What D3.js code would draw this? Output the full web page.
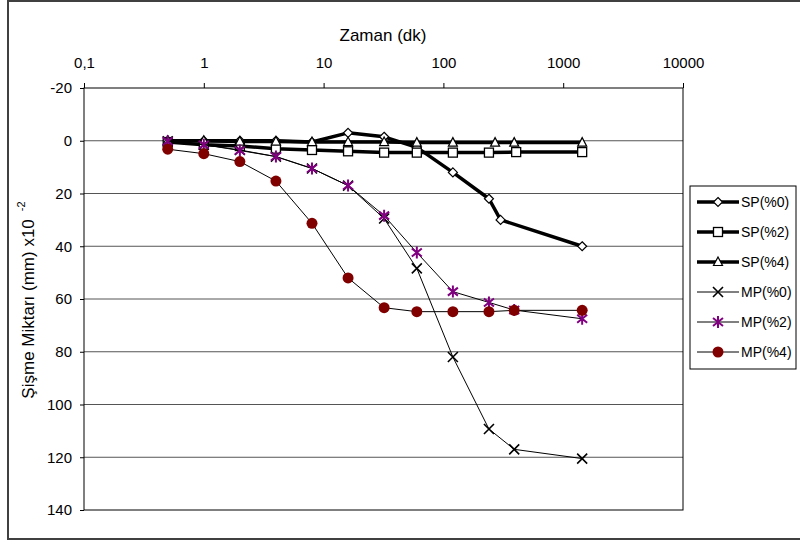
<!DOCTYPE html>
<html lang="tr">
<head>
  <meta charset="UTF-8">
  <title>Şişme Miktarı - Zaman</title>
  <script src="https://d3js.org/d3.v7.min.js"></script>
  <style>
    body { margin: 0; background: #fff; }
    svg { display: block; }
    text { font-family: "Liberation Sans", Arial, sans-serif; fill: #000; }
  </style>
</head>
<body>
  <svg width="800" height="543"></svg>
  <script>
    // dados
    const seriesNames = ['SP(%0)', 'SP(%2)', 'SP(%4)', 'MP(%0)', 'MP(%2)', 'MP(%4)'];
    const timesSP0 = [0.5, 1, 2, 4, 8, 16, 32, 60, 120, 240, 300, 1440];
    const timesSP2 = [0.5, 1, 2, 4, 8, 16, 32, 60, 120, 240, 405, 1440];
    const timesSP4 = [0.5, 1, 2, 4, 8, 16, 32, 60, 120, 270, 390, 1440];
    const timesMP = [0.5, 1, 2, 4, 8, 16, 32, 60, 120, 240, 390, 1440];
    const valSP0 = [0, 0, 0, 0, 0.5, -3, -1.5, 2.5, 12, 22, 30, 40];
    const valSP2 = [0.5, 1.5, 2, 3, 3.5, 4, 4.5, 4.5, 4.5, 4.5, 4.3, 4.3];
    const valSP4 = [0, 0, 0.3, 0.3, 0.5, 0.5, 0.5, 0.7, 0.7, 0.7, 0.7, 0.7];
    const valMP0 = [0.2, 1.5, 3.5, 6, 10.5, 17, 29.5, 48.4, 82, 109.3, 117, 120.5];
    const valMP2 = [0.2, 1.5, 3.7, 6, 10.5, 17, 28.4, 42.4, 57.2, 61.3, 64.2, 67.5];
    const valMP4 = [3.2, 4.9, 7.9, 15.3, 31.3, 52, 63.3, 64.8, 64.8, 64.8, 64.3, 64.3];
    const xTicks = [0.1, 1, 10, 100, 1000, 10000];
    const yTicks = [-20, 0, 20, 40, 60, 80, 100, 120, 140];

    const svg = d3.select('svg');

    // moldura
    svg.append('rect')
      .attr('x', 8).attr('y', 1)
      .attr('width', 800).attr('height', 538)
      .attr('fill', '#fff')
      .attr('stroke', '#404040')
      .attr('stroke-width', 2);

    const x = d3.scaleLog().domain([0.1, 10000]).range([84, 683]);
    const y = d3.scaleLinear().domain([-20, 140]).range([88, 510]);

    // grade
    svg.append('g').selectAll('line')
      .data(yTicks.slice(1, -1))
      .enter().append('line')
      .attr('x1', 84).attr('x2', 683)
      .attr('y1', d => y(d)).attr('y2', d => y(d))
      .attr('stroke', '#555')
      .attr('stroke-width', 1);

    // borda da area
    svg.append('rect')
      .attr('x', 84).attr('y', 88)
      .attr('width', 683 - 84).attr('height', 510 - 88)
      .attr('fill', 'none')
      .attr('stroke', '#000')
      .attr('stroke-width', 1);

    // eixo x no topo
    const xAxis = d3.axisTop(x)
      .tickValues(xTicks)
      .tickFormat(d => String(d).replace('.', ','))
      .tickSize(5)
      .tickSizeOuter(0);
    const gx = svg.append('g')
      .attr('transform', 'translate(0,88)')
      .call(xAxis);
    gx.attr('font-size', null).attr('font-family', null);
    gx.selectAll('text').attr('font-size', 15).attr('y', -20).attr('dy', 0);

    // eixo y
    const yAxis = d3.axisLeft(y)
      .tickValues(yTicks)
      .tickFormat(d => String(d))
      .tickSize(4)
      .tickSizeOuter(0);
    const gy = svg.append('g')
      .attr('transform', 'translate(84,0)')
      .call(yAxis);
    gy.attr('font-size', null).attr('font-family', null);
    gy.selectAll('text').attr('font-size', 15).attr('x', -12);
    gx.select('.domain').remove();
    gy.select('.domain').remove();
    svg.selectAll('.tick line').attr('stroke', '#000');

    // titulos
    svg.append('text')
      .attr('x', 383).attr('y', 41)
      .attr('text-anchor', 'middle')
      .attr('font-size', 17)
      .text('Zaman (dk)');

    const yt = svg.append('text')
      .attr('transform', 'translate(34,300) rotate(-90)')
      .attr('text-anchor', 'middle')
      .attr('font-size', 17);
    yt.append('tspan').text('Şişme Miktarı (mm) x10');
    yt.append('tspan').attr('dx', 8).attr('dy', -9).attr('font-size', 11).text('-2');

    // simbolos
    function diamond(g) {
      g.append('path').attr('d', 'M0,-4.5L4.5,0L0,4.5L-4.5,0Z')
        .attr('fill', '#fff').attr('stroke', '#000').attr('stroke-width', 1.2);
    }
    function square(g) {
      g.append('rect').attr('x', -4.5).attr('y', -4.5).attr('width', 9).attr('height', 9)
        .attr('fill', '#fff').attr('stroke', '#000').attr('stroke-width', 1.3);
    }
    function triangle(g) {
      g.append('path').attr('d', 'M0,-5L4.5,3.5L-4.5,3.5Z')
        .attr('fill', '#fff').attr('stroke', '#000').attr('stroke-width', 1.2);
    }
    function cross(g) {
      g.append('path').attr('d', 'M-5,-5L5,5M-5,5L5,-5')
        .attr('fill', 'none').attr('stroke', '#000').attr('stroke-width', 1.6);
    }
    function star(g) {
      g.append('path').attr('d', 'M0,-6L0,6M-5,-4L5,4M-5,4L5,-4')
        .attr('fill', 'none').attr('stroke', '#800080').attr('stroke-width', 2);
    }
    function dot(g) {
      g.append('circle').attr('r', 5.5).attr('fill', '#800000');
    }

    const series = [
      {name: seriesNames[0], t: timesSP0, v: valSP0, w: 3.5, sym: diamond},
      {name: seriesNames[1], t: timesSP2, v: valSP2, w: 3.5, sym: square},
      {name: seriesNames[2], t: timesSP4, v: valSP4, w: 3.5, sym: triangle},
      {name: seriesNames[3], t: timesMP, v: valMP0, w: 1, sym: cross},
      {name: seriesNames[4], t: timesMP, v: valMP2, w: 1, sym: star},
      {name: seriesNames[5], t: timesMP, v: valMP4, w: 1, sym: dot}
    ];

    const line = d3.line()
      .x(d => x(d[0]))
      .y(d => y(d[1]));

    series.forEach(s => {
      const pts = s.t.map((t, i) => [t, s.v[i]]);
      svg.append('path')
        .datum(pts)
        .attr('fill', 'none')
        .attr('stroke', '#000')
        .attr('stroke-width', s.w)
        .attr('stroke-linejoin', 'round')
        .attr('d', line);
      const g = svg.append('g');
      pts.forEach(p => {
        const m = g.append('g').attr('transform', `translate(${x(p[0])},${y(p[1])})`);
        s.sym(m);
      });
    });

    // legenda
    const lg = svg.append('g');
    lg.append('rect')
      .attr('x', 690).attr('y', 186)
      .attr('width', 106).attr('height', 183)
      .attr('fill', '#fff')
      .attr('stroke', '#000')
      .attr('stroke-width', 1);
    series.forEach((s, i) => {
      const yy = 202 + i * 30;
      lg.append('line')
        .attr('x1', 697).attr('x2', 739)
        .attr('y1', yy).attr('y2', yy)
        .attr('stroke', '#000')
        .attr('stroke-width', s.w);
      const m = lg.append('g').attr('transform', `translate(718,${yy})`);
      s.sym(m);
      lg.append('text')
        .attr('x', 741).attr('y', yy + 5)
        .attr('font-size', 14)
        .text(s.name);
    });
  </script>
</body>
</html>
